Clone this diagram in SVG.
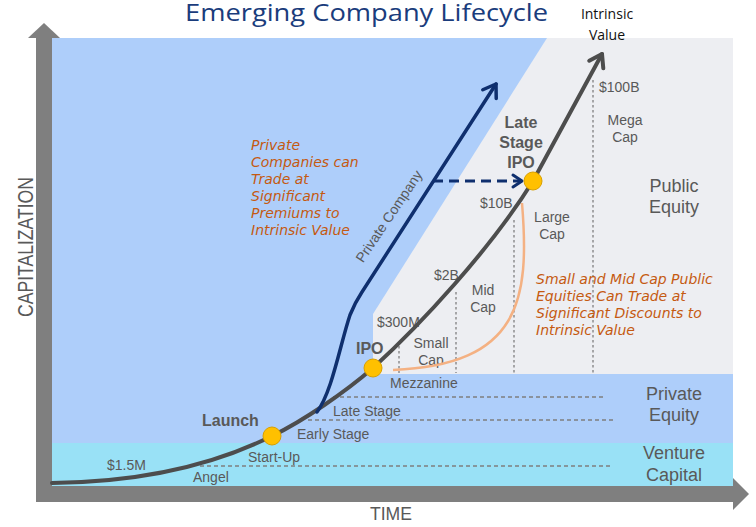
<svg xmlns="http://www.w3.org/2000/svg" width="756" height="527" viewBox="0 0 756 527">
<style>
.lbl{font-family:"Liberation Sans",Arial,sans-serif;font-size:14px;fill:#595959}
.mid{text-anchor:middle}
.big{font-size:18px}
.bold{font-weight:bold;font-size:16px}
.note{font-family:"DejaVu Sans",sans-serif;font-style:italic;font-size:14px;fill:#C55A11}
.axis{fill:#7F7F7F}
.vdot{stroke:#7F7F7F;stroke-width:1.3;stroke-dasharray:2.5,2.5;fill:none}
.hdash{stroke:#7F7F7F;stroke-width:1.3;stroke-dasharray:4,3;fill:none}
.dot{fill:#FFC000;stroke:#D9A000;stroke-width:1}
</style>
<defs>
<marker id="ahGray" markerUnits="userSpaceOnUse" markerWidth="24" markerHeight="24" viewBox="-18 -12 24 24" refX="0" refY="0" orient="auto">
<path d="M-12,-8 L0,0 L-12,8" fill="none" stroke="#4D4D4D" stroke-width="4" stroke-linecap="round" stroke-linejoin="round"/>
</marker>
<marker id="ahBlue" markerUnits="userSpaceOnUse" markerWidth="24" markerHeight="24" viewBox="-18 -12 24 24" refX="0" refY="0" orient="auto">
<path d="M-12,-8 L0,0 L-12,8" fill="none" stroke="#0F2F6E" stroke-width="3.5" stroke-linecap="round" stroke-linejoin="round"/>
</marker>
<marker id="ahDash" markerUnits="userSpaceOnUse" markerWidth="20" markerHeight="20" viewBox="-14 -10 20 20" refX="0" refY="0" orient="auto">
<path d="M-9,-6 L0,0 L-9,6" fill="none" stroke="#0F2F6E" stroke-width="3" stroke-dasharray="none" stroke-linecap="round" stroke-linejoin="round"/>
</marker>
</defs>
<rect width="756" height="527" fill="#FFFFFF"/>
<g id="background">
<rect x="52" y="38" width="681" height="405" fill="#AECEFA"/>
<polygon points="547,38 733,38 733,374 373,374 373,314" fill="#EDEEF2"/>
<rect x="52" y="443" width="681" height="43" fill="#99E1F6"/>
</g>
<g id="axes">
<rect class="axis" x="36" y="38" width="16" height="464"/>
<polygon class="axis" points="44,23 60,38 28,38"/>
<rect class="axis" x="36" y="486" width="697" height="16"/>
<polygon class="axis" points="733,478 749,494 733,510"/>
<text class="lbl" transform="translate(33,247) rotate(-90)" text-anchor="middle" style="font-size:22px" textLength="140" lengthAdjust="spacingAndGlyphs">CAPITALIZATION</text>
<text class="lbl" x="370" y="520" style="font-size:18px" textLength="42" lengthAdjust="spacingAndGlyphs">TIME</text>
</g>
<text x="185" y="21" font-family="'Open Sans','DejaVu Sans',sans-serif" font-size="24" fill="#1A3C7C" textLength="363" lengthAdjust="spacingAndGlyphs">Emerging Company Lifecycle</text>
<g id="gridlines">
<line class="vdot" x1="399" y1="346" x2="399" y2="373"/>
<line class="vdot" x1="456" y1="292" x2="456" y2="373"/>
<line class="vdot" x1="514" y1="220" x2="514" y2="373"/>
<line class="vdot" x1="593" y1="80" x2="593" y2="373"/>
<line class="hdash" x1="333" y1="397" x2="605" y2="397"/>
<line class="hdash" x1="308" y1="420" x2="613" y2="420"/>
<line class="hdash" x1="200" y1="466" x2="613" y2="466"/>
</g>
<g id="stage-labels">
<text class="lbl" x="107" y="470">$1.5M</text>
<text class="lbl" x="193" y="482">Angel</text>
<text class="lbl" x="248" y="462">Start-Up</text>
<text class="lbl" x="297" y="439">Early Stage</text>
<text class="lbl" x="333" y="416">Late Stage</text>
<text class="lbl" x="390" y="388">Mezzanine</text>
<text class="lbl" x="377" y="327">$300M</text>
<text class="lbl mid" x="431" y="348">Small</text>
<text class="lbl mid" x="431" y="365">Cap</text>
<text class="lbl" x="434" y="280">$2B</text>
<text class="lbl mid" x="483" y="295">Mid</text>
<text class="lbl mid" x="483" y="312">Cap</text>
<text class="lbl" x="480" y="208">$10B</text>
<text class="lbl mid" x="552" y="222">Large</text>
<text class="lbl mid" x="552" y="239">Cap</text>
<text class="lbl" x="599" y="92">$100B</text>
<text class="lbl mid" x="625" y="125">Mega</text>
<text class="lbl mid" x="625" y="142">Cap</text>
</g>
<g id="region-labels">
<text class="lbl big mid" x="674" y="192">Public</text>
<text class="lbl big mid" x="674" y="213">Equity</text>
<text class="lbl big mid" x="674" y="400">Private</text>
<text class="lbl big mid" x="674" y="421">Equity</text>
<text class="lbl big mid" x="674" y="459">Venture</text>
<text class="lbl big mid" x="674" y="481">Capital</text>
</g>
<g id="notes">
<text class="note" x="251" y="150">Private</text>
<text class="note" x="251" y="167">Companies can</text>
<text class="note" x="251" y="184">Trade at</text>
<text class="note" x="251" y="201">Significant</text>
<text class="note" x="251" y="218">Premiums to</text>
<text class="note" x="251" y="235">Intrinsic Value</text>
<text class="note" x="536" y="284">Small and Mid Cap Public</text>
<text class="note" x="536" y="301">Equities Can Trade at</text>
<text class="note" x="536" y="318">Significant Discounts to</text>
<text class="note" x="536" y="335">Intrinsic Value</text>
</g>
<g id="connectors">
<path id="discount-arc" d="M522,203 C530,300 520,365 393,370" fill="none" stroke="#F4B183" stroke-width="2.5"/>
<path id="intrinsic-curve" d="M52,483 C150,482 220,462 272,436 C305,420 345,392 373,368 C420,325 490,250 533,181 L602,54" fill="none" stroke="#4D4D4D" stroke-width="4" stroke-linecap="round" marker-end="url(#ahGray)"/>
<path id="private-curve" d="M317,412 C332,392 340,345 350,315 C354,305 358,298 362,292 L496,84" fill="none" stroke="#0F2F6E" stroke-width="3.5" stroke-linecap="round" marker-end="url(#ahBlue)"/>
<path id="late-ipo-arrow" d="M433,181 L522,181" fill="none" stroke="#0F2F6E" stroke-width="3" stroke-dasharray="10,6" marker-end="url(#ahDash)"/>
<text class="lbl" transform="translate(393,219) rotate(-56)" text-anchor="middle">Private Company</text>
</g>
<g id="launch">
<circle class="dot" cx="272" cy="436" r="9"/>
<text class="lbl bold" x="202" y="426">Launch</text>
</g>
<g id="ipo">
<circle class="dot" cx="373" cy="368" r="9"/>
<text class="lbl bold" x="356" y="354">IPO</text>
</g>
<g id="late-stage-ipo">
<circle class="dot" cx="533" cy="181" r="9"/>
<text class="lbl bold mid" x="521" y="128">Late</text>
<text class="lbl bold mid" x="521" y="148">Stage</text>
<text class="lbl bold mid" x="521" y="168">IPO</text>
</g>
<g id="intrinsic-value">
<text x="607" y="19" font-family="'Open Sans','DejaVu Sans',sans-serif" font-size="14" fill="#111111" text-anchor="middle">Intrinsic</text>
<text x="607" y="40" font-family="'Open Sans','DejaVu Sans',sans-serif" font-size="14" fill="#111111" text-anchor="middle">Value</text>
</g>
</svg>
